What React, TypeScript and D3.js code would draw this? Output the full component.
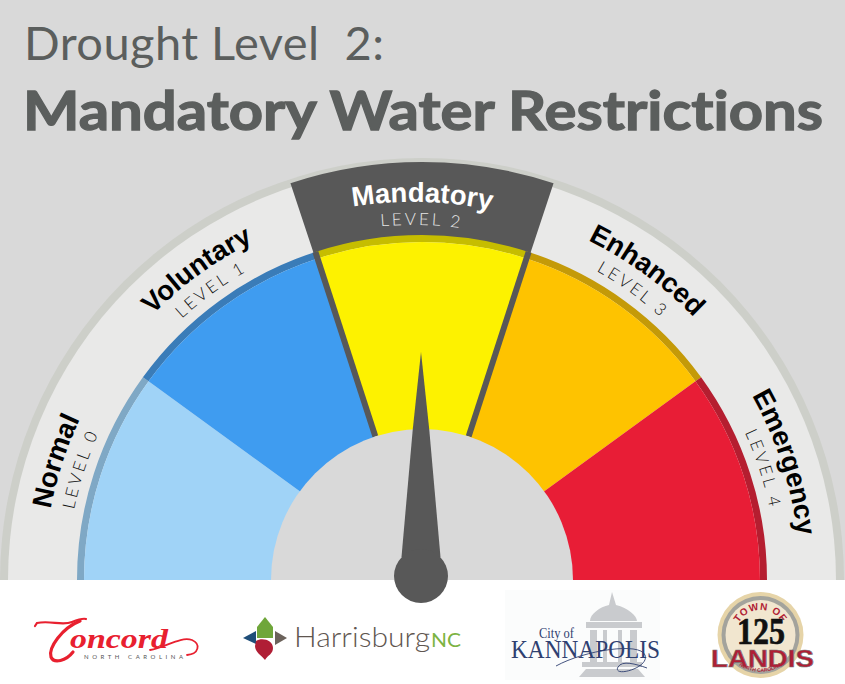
import React from "react";
import * as d3 from "d3";

const levelNames = ["Normal", "Voluntary", "Mandatory", "Enhanced", "Emergency"];
const levelTags = ["LEVEL 0", "LEVEL 1", "LEVEL 2", "LEVEL 3", "LEVEL 4"];
const levelFills = ["#a0d3f7", "#3f9cf0", "#fdf200", "#fec300", "#e81d36"];
const levelRings = ["#7fa8c5", "#3a7cb8", "#c6bd00", "#c49a08", "#b51e30"];
const labelTilt = [0, 0, 1.5, 0, 0];
const currentLevel = 2;
const titleLight = "Drought Level  2:";
const titleBold = "Mandatory Water Restrictions";

const W = 845, H = 684;
const cx = 422, cy = 580;
const R = { hub: 151, fill: 338, ring: 345, panel: 414, rim: 422, wedge: 418 };
const NAME_R = 378, TAG_R = 355;
const angle = d3.scaleLinear().domain([0, 5]).range([-Math.PI / 2, Math.PI / 2]);
const arc = d3.arc();
const band = (i: number, r0: number, r1: number, pad = 0) =>
  arc({ innerRadius: r0, outerRadius: r1, startAngle: angle(i) - pad, endAngle: angle(i + 1) + pad }) as string;
const half = (r: number) =>
  arc({ innerRadius: 0, outerRadius: r, startAngle: -Math.PI / 2, endAngle: Math.PI / 2 }) as string;

// label arc running clockwise through the middle of a level's band
const labelPath = (i: number, r: number) => {
  const a = angle(i + 0.5) - Math.PI / 2;
  const s = 0.4;
  const p = d3.path();
  p.arc(0, 0, r, a - s, a + s, false);
  return p.toString();
};

const GREY = "#5b5e5d";
const DARK = "#585858";

function Logos() {
  return (
    <g>
      {/* Concord */}
      <g fill="none" stroke="#e8202f" strokeLinecap="round">
        <path d="M35 626 L37 623 C50 620 62 626 72 622 C77 620 83 618 86 619" strokeWidth="2.2" />
        <path d="M80 621 C62 628 48 648 51 657 C54 664 66 661 73 652" strokeWidth="3.2" />
        <path d="M150 650 C165 648 180 636 192 640 C201 644 199 654 187 655" strokeWidth="1.8" />
      </g>
      <text x="70" y="648" fontFamily="'Liberation Serif'" fontStyle="italic" fontSize="28" fontWeight="700" fill="#e8202f" textLength="98" lengthAdjust="spacingAndGlyphs">oncord</text>
      <text x="84" y="659" fontFamily="Lato" fontSize="6" fill="#555" textLength="99">NORTH CAROLINA</text>
      {/* Harrisburg */}
      <path d="M265 617 L273 627 L273 638 L257 638 L257 627 Z" fill="#6fa63a" />
      <path d="M243 638 L256 631 L256 644 Z" fill="#1f4e79" />
      <path d="M275 631 L287 638 L275 645 Z" fill="#6b625b" />
      <path d="M256 641 C262 637 273 640 273 648 C273 654 268 655 265 660 C261 655 255 652 255 646 Z" fill="#b01e35" />
      <text x="294" y="647" fontFamily="Lato" fontSize="28" fontWeight="300" fill="#5f5650" textLength="136" lengthAdjust="spacingAndGlyphs">Harrisburg</text>
      <text x="431" y="647" fontFamily="Lato" fontSize="20" fill="#7cb342" textLength="30" lengthAdjust="spacingAndGlyphs">NC</text>
      {/* Kannapolis */}
      <rect x="505" y="590" width="155" height="90" fill="#fbfcfc" />
      <g fill="#c9cbce">
        <path d="M612 592 L616 605 C628 608 637 616 637 621 L590 621 C590 614 600 607 609 605 Z" />
        <rect x="586" y="622" width="56" height="6" />
        <rect x="590" y="630" width="7" height="32" />
        <rect x="603" y="630" width="4" height="32" />
        <rect x="618" y="630" width="4" height="32" />
        <rect x="630" y="630" width="7" height="32" />
        <rect x="582" y="662" width="60" height="5" />
        <path d="M579 677 L586 669 L638 669 L645 677 Z" />
      </g>
      <text x="539" y="638" fontFamily="'Liberation Serif'" fontSize="15" fill="#2f4070" textLength="35" lengthAdjust="spacingAndGlyphs">City of</text>
      <text x="511" y="658" fontFamily="'Liberation Serif'" fontSize="25" fill="#2f4070" textLength="149" lengthAdjust="spacingAndGlyphs">KANNAPOLIS</text>
      <path d="M556 666 C585 650 640 642 645 655 C650 668 612 678 618 667 C622 660 636 664 647 668" fill="none" stroke="#2f4070" strokeWidth="0.9" />
      {/* Landis */}
      <circle cx="760.5" cy="635" r="43" fill="#e6d4a8" />
      <circle cx="760.5" cy="635" r="39" fill="#a3a39c" />
      <circle cx="760.5" cy="635" r="35" fill="#f1e6cf" />
      <path id="landisTop" d="M735.5 635 A25 25 0 0 1 785.5 635" fill="none" />
      <path id="landisLow" d="M723 640 A38 38 0 0 0 798 640" fill="none" />
      <text fontFamily="'Liberation Sans'" fontWeight="700" fontSize="10" fill="#b01e35" letterSpacing="0.8">
        <textPath href="#landisTop" startOffset="50%" textAnchor="middle">TOWN OF</textPath>
      </text>
      <text x="761" y="644" textAnchor="middle" fontFamily="'Liberation Serif'" fontWeight="700" fontSize="38" fill="#111" stroke="#111" strokeWidth="0.7" textLength="48" lengthAdjust="spacingAndGlyphs">125</text>
      <text x="762.5" y="667" textAnchor="middle" fontFamily="'Liberation Sans'" fontWeight="700" fontSize="24" fill="#b01e35" stroke="#777" strokeWidth="0.6" textLength="103" lengthAdjust="spacingAndGlyphs">LANDIS</text>
      <text fontFamily="'Liberation Sans'" fontWeight="700" fontSize="5" fill="#b01e35">
        <textPath href="#landisLow" startOffset="50%" textAnchor="middle">NORTH CAROLINA</textPath>
      </text>
    </g>
  );
}

export default function App() {
  const needleA = angle(currentLevel + 0.5);
  const needle = d3.line()([
    [-19.5, 0],
    [-8.3, -127],
    [226 * Math.sin(needleA), -205],
    [8.3, -127],
    [19.5, 0],
  ]) as string;
  return (
    <svg width={W} height={H} viewBox={`0 0 ${W} ${H}`} style={{ position: "fixed", left: 0, top: 0 }}>
      <rect width={W} height={H} fill="#d9d9d9" />
      <g transform={`translate(${cx},${cy})`}>
        <path d={half(R.rim)} fill="#cdcfc9" />
        <path d={half(R.panel)} fill="#e9e9e8" />
        <path d={band(currentLevel, R.ring - 4, R.wedge, 0.006)} fill={DARK} />
        {levelNames.map((n, i) => (
          <g key={n}>
            <path d={band(i, R.fill, R.ring)} fill={levelRings[i]} />
            <path d={band(i, R.hub - 2, R.fill)} fill={levelFills[i]} />
          </g>
        ))}
        {[currentLevel, currentLevel + 1].map((b) => (
          <line key={b} x1={R.hub * Math.sin(angle(b))} y1={-R.hub * Math.cos(angle(b))}
            x2={R.ring * Math.sin(angle(b))} y2={-R.ring * Math.cos(angle(b))} stroke={DARK} strokeWidth={6} />
        ))}
        <path d={half(R.hub)} fill="#d9d9d9" />
        <defs>
          {levelNames.map((n, i) => (
            <g key={n}>
              <path id={`name-${i}`} d={labelPath(i, NAME_R)} />
              <path id={`tag-${i}`} d={labelPath(i, TAG_R)} />
            </g>
          ))}
        </defs>
        {levelNames.map((n, i) => {
          const a = angle(i + 0.5);
          const px = 372 * Math.sin(a), py = -372 * Math.cos(a);
          return (
            <g key={n} transform={`rotate(${labelTilt[i]},${px},${py})`}>
              <text fontFamily="'Liberation Sans'" fontWeight="700" fontSize="27.5" fill={i === currentLevel ? "#fff" : "#000"}>
                <textPath href={`#name-${i}`} startOffset="50%" textAnchor="middle">{n}</textPath>
              </text>
              <text fontFamily="Lato" fontWeight="300" fontSize="17" letterSpacing="2.8" fill={i === currentLevel ? "#e8e8e8" : "#111"}>
                <textPath href={`#tag-${i}`} startOffset="50%" textAnchor="middle">{levelTags[i]}</textPath>
              </text>
            </g>
          );
        })}
      </g>
      <rect x="0" y={cy} width={W} height={H - cy} fill="#fff" />
      <g transform="translate(421,576)" fill={DARK}>
        <path d={needle} transform="translate(0,-19)" />
        <circle r="27" />
      </g>
      <text x="24" y="60" fontFamily="Lato" fontSize="47" fill={GREY} textLength="360" style={{ whiteSpace: "pre" }}>{titleLight}</text>
      <text x="23" y="130" fontFamily="Lato" fontWeight="700" fontSize="54" fill={GREY} stroke={GREY} strokeWidth="1.3" textLength="800" lengthAdjust="spacingAndGlyphs" style={{ fontVariantLigatures: "none" }}>{titleBold}</text>
      <Logos />
    </svg>
  );
}
